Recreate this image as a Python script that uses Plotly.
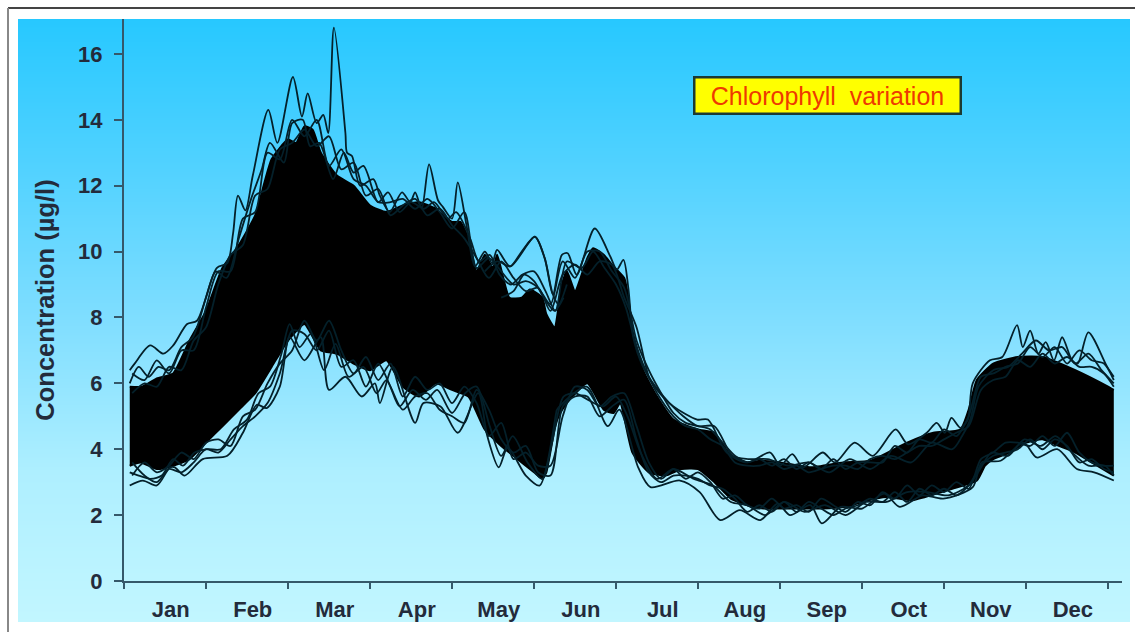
import plotly.graph_objects as go

month_labels = ["Jan", "Feb", "Mar", "Apr", "May", "Jun", "Jul", "Aug", "Sep", "Oct", "Nov", "Dec"]
y_ticks = [0, 2, 4, 6, 8, 10, 12, 14, 16]

# Dense central mass of the profiles: month position, upper and lower bound
core_hi_m = [.07,.22,.40,.60,.80,1.0,1.2,1.4,1.6,1.8,2.0,2.1,2.2,2.3,2.4,2.6,2.8,3.0,3.2,3.4,3.6,3.8,4.0,4.1,4.2,4.3,4.4,4.5,4.55,4.7,4.85,4.95,5.1,5.15,5.25,5.34,5.4,5.5,5.65,5.72,5.85,5.95,6.1,6.15,6.2,6.33,6.5,6.7,7.0,7.2,7.4,7.6,7.76,8.0,8.37,8.77,9.1,9.55,9.87,10.2,10.3,10.4,10.6,10.9,11.2,11.6,12.0,12.07]
core_hi_v = [5.9,5.9,6.15,6.3,7.3,8.2,9.5,10.2,11.1,12.8,13.4,13.3,13.8,13.7,13.0,12.3,12.0,11.4,11.2,11.4,11.5,11.3,10.9,10.9,10.4,9.4,9.9,9.5,9.9,8.6,8.6,8.85,8.6,8.1,7.7,9.0,9.4,8.8,9.8,10.1,9.9,9.6,9.2,8.6,7.6,6.4,5.6,4.9,4.6,4.5,3.8,3.6,3.65,3.6,3.45,3.6,3.65,4.2,4.5,4.6,5.2,6.1,6.6,6.8,6.8,6.4,5.9,5.8]
core_lo_m = [.07,.2,.4,.6,.8,1.0,1.2,1.4,1.6,1.8,2.0,2.2,2.4,2.6,2.8,3.0,3.2,3.4,3.6,3.8,4.0,4.2,4.4,4.6,4.8,5.0,5.1,5.15,5.25,5.3,5.4,5.65,5.85,5.97,6.05,6.2,6.4,6.6,6.8,7.0,7.2,7.4,7.6,7.8,8.0,8.2,8.5,8.8,9.0,9.3,9.6,9.9,10.1,10.4,10.5,10.6,10.8,11.0,11.2,11.4,11.6,11.8,12.07]
core_lo_v = [3.5,3.6,3.4,3.5,3.7,4.2,4.7,5.2,5.7,6.5,7.3,7.8,7.0,6.9,6.6,6.4,6.7,5.9,5.6,6.0,5.8,5.6,4.6,4.1,3.7,3.3,3.1,3.3,4.6,5.0,5.4,6.0,5.2,5.1,5.4,3.9,3.3,3.2,3.4,3.4,3.0,2.5,2.3,2.2,2.2,2.2,2.2,2.25,2.4,2.55,2.45,2.65,2.8,3.05,3.5,3.7,3.9,4.2,4.3,4.1,3.9,3.6,3.2]

# Outermost visible profiles
top_a_m = [.07,.13,.32,.48,.60,.77,.89,1.13,1.26,1.33,1.39,1.48,1.57,1.76,1.87,2.06,2.17,2.24,2.35,2.43,2.49,2.56,2.70,2.72,2.78,2.88,3.04,3.12,3.24,3.39,3.49,3.55,3.63,3.72,3.83,3.89,4.0,4.07,4.18,4.28,4.40,4.49,4.55,4.71,5.01,5.13,5.23,5.34,5.41,5.52,5.74,5.93,6.01,6.09,6.15,6.21,6.33,6.50,6.70,6.99,7.12,7.35,7.60,7.88,8.0,8.15,8.28,8.52,8.67,8.91,9.13,9.41,9.56,9.79,9.91,10.01,10.09,10.20,10.29,10.35,10.56,10.71,10.89,10.96,11.05,11.15,11.24,11.34,11.44,11.56,11.63,11.76,11.99,12.07]
top_a_v = [6.4,6.6,7.15,6.9,7.15,7.8,7.9,9.5,9.65,10.55,11.7,11.25,12.3,14.3,13.3,15.3,14.1,14.8,13.9,14.15,13.6,16.8,13.6,13.0,12.9,12.0,12.2,11.7,11.2,11.8,11.5,11.8,11.3,12.65,11.55,11.35,11.0,12.1,10.75,9.55,10.0,9.65,10.05,9.55,10.45,9.8,8.7,9.9,9.95,9.3,10.7,9.85,9.45,9.75,8.9,7.4,6.5,5.8,5.3,4.9,4.9,3.9,3.6,3.9,3.5,3.85,3.45,3.9,3.6,4.2,3.8,4.6,4.15,4.5,4.8,4.5,4.95,4.65,4.9,6.0,6.7,6.8,7.77,7.1,7.6,6.9,7.25,6.7,7.4,6.7,6.6,7.55,6.5,6.2]
bot_a_m = [.07,.23,.40,.56,.62,.74,.96,1.26,1.45,1.62,1.74,1.90,2.02,2.20,2.40,2.50,2.70,2.90,3.06,3.12,3.28,3.55,3.65,3.86,4.07,4.32,4.43,4.57,4.68,4.90,5.07,5.27,5.28,5.64,5.90,6.04,6.27,6.42,6.78,7.02,7.27,7.51,7.76,7.97,8.12,8.37,8.51,8.74,9.0,9.27,9.46,9.74,9.99,10.35,10.46,10.69,10.97,11.13,11.38,11.62,11.83,12.07]
bot_a_v = [2.9,3.05,2.9,3.45,3.45,3.2,3.7,3.8,4.5,5.35,5.25,5.9,7.4,6.7,7.4,5.8,6.2,5.6,6.0,5.4,6.5,4.8,5.4,5.3,4.5,5.7,4.4,3.45,4.05,3.2,2.9,5.1,5.2,5.9,4.7,5.2,3.45,2.85,3.05,2.7,1.85,2.15,1.85,2.35,2.0,2.3,1.75,2.25,2.2,2.65,2.25,2.6,2.5,2.85,3.6,3.65,4.2,3.75,4.0,3.4,3.3,3.05]

# Second layer of profiles just inside the outermost ones
top_b_m = [.07,.18,.30,.42,.55,.70,.84,1.00,1.12,1.25,1.40,1.55,1.68,1.78,1.95,2.05,2.18,2.27,2.38,2.55,2.68,2.80,2.92,3.10,3.22,3.36,3.50,3.66,3.78,3.95,4.05,4.22,4.33,4.46,4.58,4.72,4.86,5.00,5.14,5.26,5.40,5.58,5.72,5.86,6.00,6.12,6.24,6.40,6.58,6.82,7.00,7.20,7.42,7.62,7.85,8.10,8.35,8.60,8.85,9.10,9.35,9.60,9.85,10.10,10.22,10.32,10.42,10.60,10.78,10.95,11.12,11.28,11.44,11.60,11.76,11.92,12.07]
top_b_v = [6.0,6.5,6.2,6.5,6.4,7.1,7.4,8.6,9.4,9.2,10.4,11.6,12.5,13.3,12.7,13.9,14.0,13.2,13.3,12.2,13.0,12.4,12.6,11.5,11.8,11.2,11.5,11.3,11.5,11.0,11.2,10.4,9.7,9.9,9.3,9.0,9.3,9.4,8.8,8.2,9.7,9.5,10.0,9.5,9.0,8.3,7.2,6.2,5.6,5.0,4.7,4.7,3.8,3.7,3.7,3.5,3.6,3.3,3.7,3.4,3.8,3.6,4.2,4.0,4.4,4.9,5.9,6.4,6.5,6.9,7.3,7.0,7.1,6.6,6.9,6.4,6.0]
bot_b_m = [.07,.18,.32,.46,.60,.72,.86,1.02,1.18,1.34,1.50,1.64,1.78,1.92,2.02,2.14,2.28,2.44,2.58,2.74,2.92,3.08,3.20,3.36,3.52,3.68,3.82,4.00,4.16,4.30,4.46,4.60,4.74,4.92,5.10,5.22,5.36,5.50,5.66,5.84,6.00,6.14,6.30,6.50,6.70,6.95,7.18,7.40,7.60,7.82,8.05,8.30,8.55,8.80,9.05,9.30,9.55,9.80,10.05,10.30,10.44,10.58,10.78,10.98,11.18,11.36,11.56,11.76,11.96,12.07]
bot_b_v = [3.3,3.2,3.1,3.2,3.7,3.5,3.9,4.0,4.0,4.6,4.9,5.7,5.9,6.9,7.8,7.1,7.5,6.4,7.2,6.2,6.5,5.7,6.1,5.3,5.8,5.5,5.8,5.1,5.7,5.9,4.7,3.8,4.4,3.6,3.1,4.2,5.6,5.7,5.5,5.3,5.6,5.0,3.9,3.1,3.4,3.1,2.9,2.4,2.3,2.0,2.4,2.1,2.3,2.0,2.4,2.4,2.7,2.7,2.6,2.9,3.4,3.9,3.8,4.3,4.1,4.4,3.9,3.5,3.5,3.2]

# Further profiles near the edges of the mass, read at a regular spacing
grid_m = [.1,.25,.4,.55,.7,.85,1.0,1.15,1.3,1.45,1.6,1.75,1.9,2.05,2.2,2.35,2.5,2.65,2.8,2.95,3.1,3.25,3.4,3.55,3.7,3.85,4.0,4.15,4.3,4.45,4.6,4.75,4.9,5.05,5.2,5.35,5.5,5.65,5.8,5.95,6.1,6.25,6.4,6.55,6.7,6.85,7.0,7.15,7.3,7.45,7.6,7.75,7.9,8.05,8.2,8.35,8.5,8.65,8.8,8.95,9.1,9.25,9.4,9.55,9.7,9.85,10.0,10.15,10.3,10.45,10.6,10.75,10.9,11.05,11.2,11.35,11.5,11.65,11.8,11.95,12.07]
top_c_v = [6.3,6.1,6.7,6.3,7.0,7.0,8.3,9.4,9.4,11.0,11.2,13.0,12.8,14.0,13.5,14.0,12.6,13.1,12.2,12.0,11.5,11.5,11.6,11.3,11.6,11.2,10.7,11.2,9.5,9.8,9.4,9.0,9.1,8.9,8.4,9.7,9.2,10.0,10.0,9.4,8.9,7.3,6.4,5.7,5.1,4.8,4.7,4.6,4.2,3.8,3.6,3.7,3.5,3.7,3.4,3.6,3.4,3.7,3.4,3.6,3.6,3.6,4.1,3.9,4.3,4.2,4.6,4.4,5.0,6.2,6.3,6.5,6.6,7.1,6.8,7.1,6.6,7.0,6.7,6.6,6.1]
top_d_v = [5.7,6.0,5.9,6.5,6.4,7.3,7.7,9.0,9.9,10.2,11.7,11.9,13.1,13.3,13.7,13.2,13.5,12.5,12.7,11.7,11.9,11.1,11.4,11.6,11.1,11.3,10.8,10.4,9.8,9.2,9.7,9.2,8.8,8.9,8.2,9.3,9.6,9.3,9.7,9.6,8.6,7.7,6.2,5.5,5.0,4.7,4.6,4.3,4.1,3.6,3.5,3.5,3.6,3.4,3.5,3.3,3.4,3.5,3.5,3.4,3.7,3.8,3.7,3.9,4.1,4.1,4.3,4.5,4.7,5.8,6.1,6.2,6.7,6.5,6.9,6.6,6.8,6.5,6.5,6.3,5.9]
bot_c_v = [3.6,3.2,3.0,3.4,3.3,3.6,4.0,3.9,4.3,4.7,5.0,5.4,6.3,7.6,7.5,7.0,7.6,6.5,6.7,5.9,6.6,5.9,5.2,5.6,5.7,5.2,5.0,4.8,5.8,5.2,4.3,3.9,4.1,3.3,3.2,5.3,5.6,5.6,5.0,5.3,5.5,4.3,3.3,3.0,3.2,3.2,3.1,2.9,2.8,2.5,2.1,2.3,2.1,2.4,2.1,2.4,2.2,2.0,2.2,2.3,2.5,2.4,2.7,2.4,2.8,2.6,2.8,2.6,2.9,3.5,3.8,3.9,4.0,4.3,4.0,4.3,4.1,3.6,3.7,3.4,3.3]
bot_d_v = [3.2,3.6,3.3,3.5,3.9,3.7,4.2,4.3,4.1,5.0,5.2,6.0,6.6,7.0,7.9,7.3,7.9,7.0,6.3,6.8,6.1,6.6,5.6,6.2,5.8,6.0,5.4,5.9,5.4,4.4,4.8,3.7,3.9,3.5,3.5,5.0,5.9,5.8,5.3,5.6,5.7,4.7,3.6,3.1,3.4,3.1,3.3,3.0,2.5,2.6,2.3,2.2,2.5,2.2,2.3,2.1,2.5,2.3,2.1,2.4,2.3,2.7,2.5,2.9,2.6,2.9,2.7,3.0,2.8,3.7,3.9,4.2,4.2,4.1,4.4,4.1,4.5,3.9,3.6,3.5,3.5]

# Single profiles standing clear of the others in May and June
late_spring_m = [4.40,4.55,4.71,4.85,5.01,5.13,5.23,5.30,5.40]
late_spring_v = [9.4,9.7,9.55,10.0,10.45,9.8,8.7,8.4,9.0]
late_spring_b_m = [4.60,4.75,4.88,5.00,5.12,5.25,5.36]
late_spring_b_v = [8.6,8.8,9.3,9.1,8.6,8.2,8.6]

fig = go.Figure()

# Background gradient
fig.add_trace(go.Heatmap(
    x=[0, 1], y=[0, 0.25, 0.5, 0.75, 1], z=[[0, 0], [0.25, 0.25], [0.5, 0.5], [0.75, 0.75], [1, 1]],
    colorscale=[[0, "#C2F6FF"], [0.25, "#AEEFFF"], [0.5, "#80DEFF"], [0.75, "#52D2FF"], [1, "#27C8FF"]],
    zsmooth="best", showscale=False, hoverinfo="skip", xaxis="x", yaxis="y"))

# Core
fig.add_trace(go.Scatter(x=core_lo_m, y=core_lo_v, mode="lines", line=dict(color="#000000", width=2, shape="spline", smoothing=0.5), xaxis="x2", yaxis="y2", showlegend=False))
fig.add_trace(go.Scatter(x=core_hi_m, y=core_hi_v, mode="lines", line=dict(color="#000000", width=2, shape="spline", smoothing=0.5), fill="tonexty", fillcolor="#000000", xaxis="x2", yaxis="y2", showlegend=False))

for xs, ys in [(top_a_m, top_a_v), (bot_a_m, bot_a_v), (top_b_m, top_b_v), (bot_b_m, bot_b_v),
               (grid_m, top_c_v), (grid_m, top_d_v), (grid_m, bot_c_v), (grid_m, bot_d_v),
               (late_spring_m, late_spring_v), (late_spring_b_m, late_spring_b_v)]:
    fig.add_trace(go.Scatter(x=xs, y=ys, mode="lines", xaxis="x2", yaxis="y2", showlegend=False,
                             line=dict(color="#04202a", width=1.8, shape="spline", smoothing=0.8)))

W, H = 1135, 632
font_axis = dict(family="Liberation Sans", size=22, color="#232b3b", weight="bold")
fig.update_layout(
    width=W, height=H, autosize=False, margin=dict(l=0, r=0, t=0, b=0, pad=0, autoexpand=False),
    paper_bgcolor="#FFFFFF", plot_bgcolor="rgba(0,0,0,0)", showlegend=False,
    xaxis=dict(domain=[18/W, 1130/W], range=[0, 1], visible=False, fixedrange=True),
    yaxis=dict(domain=[1-622/H, 1-19/H], range=[0, 1], visible=False, fixedrange=True),
    xaxis2=dict(domain=[124/W, 1122/W], range=[0, 12.17], anchor="y2", tickmode="array",
                tickvals=[k + 0.57 for k in range(12)], ticktext=month_labels, ticks="",
                tickfont=font_axis, showgrid=False, zeroline=False, showline=True, automargin=False,
                linecolor="#35586a", linewidth=2, ticklabelstandoff=8,
                minor=dict(tickmode="array", tickvals=list(range(13)), ticks="outside", ticklen=6, tickwidth=2, tickcolor="#35586a", showgrid=False)),
    yaxis2=dict(domain=[1-581/H, 1-19/H], range=[0, 17.06], anchor="x2", tickmode="array",
                tickvals=y_ticks, ticks="outside", ticklen=8, tickwidth=2, tickcolor="#35586a",
                tickfont=font_axis, showgrid=False, zeroline=False, showline=True, automargin=False,
                linecolor="#35586a", linewidth=2, ticklabelstandoff=7,
                title=dict(text="Concentration (µg/l)", font=dict(family="Liberation Sans", size=25.5, color="#232b3b", weight="bold"), standoff=16)),
    annotations=[dict(text="Chlorophyll  variation", xref="paper", yref="paper",
                      x=827/W, y=1-95/H, xanchor="center", yanchor="middle", showarrow=False,
                      width=262, height=32, bgcolor="#FFFF00", bordercolor="#1c3a33", borderwidth=2.5,
                      font=dict(family="Liberation Sans", size=25, color="#EE3A00"))],
    shapes=[dict(type="line", xref="paper", yref="paper", x0=8/W, x1=1, y0=1-8/H, y1=1-8/H, line=dict(color="#444444", width=2)),
            dict(type="line", xref="paper", yref="paper", x0=8/W, x1=8/W, y0=0, y1=1-8/H, line=dict(color="#888888", width=2))],
)
fig.write_html("out.html", config=dict(displayModeBar=False, responsive=False),
               post_script="document.body.style.margin='0';document.documentElement.style.overflow='hidden';")
